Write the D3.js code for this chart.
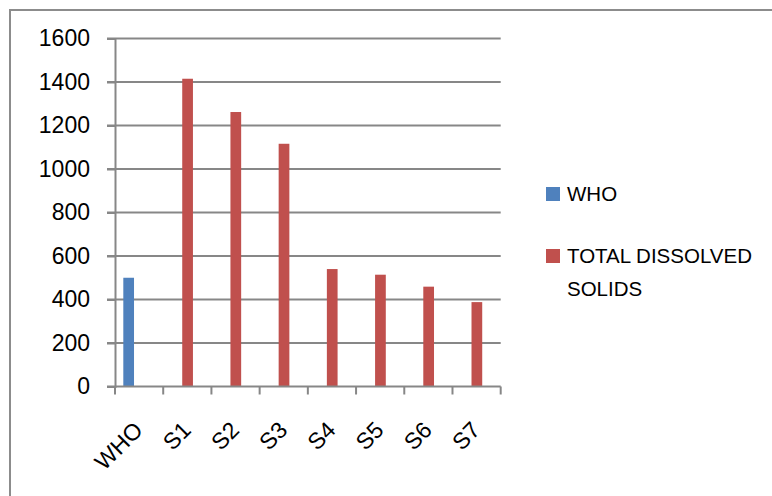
<!DOCTYPE html>
<html>
<head>
<meta charset="utf-8">
<script src="https://cdn.jsdelivr.net/npm/d3@7"></script>
<style>
  body { margin: 0; background: #fff; }
  svg { display: block; font-family: "Liberation Sans", Arial, sans-serif; }
</style>
</head>
<body>
<div id="viz"></div>
<script>
// chart data
const categories = ["WHO", "S1", "S2", "S3", "S4", "S5", "S6", "S7"];
const seriesNames = ["WHO", "TOTAL DISSOLVED SOLIDS"];
const whoValues = [500, null, null, null, null, null, null, null];
const tdsValues = [null, 1415, 1262, 1116, 540, 514, 459, 388];
const yTicks = [0, 200, 400, 600, 800, 1000, 1200, 1400, 1600];
const colors = ["#4f81bd", "#c0504d"];

const width = 772, height = 496;
const plot = {left: 115, right: 500.7, top: 38.5, bottom: 386.5};
const fontFamily = "'Liberation Sans', Arial, sans-serif";

const svg = d3.select("#viz").append("svg")
    .attr("width", width)
    .attr("height", height);

// outer chart border (only top and left are inside the frame)
svg.append("rect")
    .attr("x", 10).attr("y", 10)
    .attr("width", width + 20).attr("height", height + 20)
    .attr("fill", "none")
    .attr("stroke", "#8c8c8c")
    .attr("stroke-width", 2);

const xScale = d3.scaleBand()
    .domain(categories)
    .range([plot.left, plot.right])
    .padding(0);

// series offset inside each category (wide gap, group slightly left of centre)
const xSeries = d3.scaleBand()
    .domain(seriesNames)
    .range([0, xScale.bandwidth()])
    .paddingInner(0)
    .paddingOuter(1.25)
    .align(0.31);

const yScale = d3.scaleLinear()
    .domain([0, 1600])
    .range([plot.bottom, plot.top]);

// gridlines
svg.append("g")
  .selectAll("line")
  .data(yTicks.filter(d => d > 0))
  .join("line")
    .attr("x1", plot.left - 8)
    .attr("x2", plot.right)
    .attr("y1", d => yScale(d))
    .attr("y2", d => yScale(d))
    .attr("stroke", "#878787")
    .attr("stroke-width", 2);

// bars
const rows = categories.map((c, i) => ({cat: c, values: [whoValues[i], tdsValues[i]]}));
svg.append("g")
  .selectAll("g")
  .data(rows)
  .join("g")
    .attr("transform", d => "translate(" + xScale(d.cat) + ",0)")
  .selectAll("rect")
  .data(d => d.values.map((v, j) => ({series: seriesNames[j], value: v, color: colors[j]})).filter(d => d.value != null))
  .join("rect")
    .attr("x", d => xSeries(d.series))
    .attr("width", xSeries.bandwidth())
    .attr("y", d => yScale(d.value))
    .attr("height", d => yScale(0) - yScale(d.value))
    .attr("fill", d => d.color);

// Y axis
const yAxis = d3.axisLeft(yScale)
    .tickValues(yTicks)
    .tickFormat(d3.format("d"))
    .tickSize(8)
    .tickPadding(17);
const yAxisG = svg.append("g")
    .attr("transform", "translate(" + plot.left + ",0)")
    .call(yAxis);
yAxisG.select(".domain").attr("stroke", "#878787").attr("stroke-width", 2);
yAxisG.selectAll(".tick line").attr("stroke", "#878787").attr("stroke-width", 2);
yAxisG.selectAll(".tick text")
    .attr("fill", "#000")
    .style("font-size", "23px")
    .style("font-family", fontFamily);

// X axis: ticks at category boundaries
const boundaries = categories.map(c => xScale(c)).concat([plot.right]);
const xg = svg.append("g");
xg.append("line")
    .attr("x1", plot.left - 8).attr("x2", plot.right)
    .attr("y1", plot.bottom).attr("y2", plot.bottom)
    .attr("stroke", "#878787").attr("stroke-width", 2);
xg.selectAll(".xtick")
  .data(boundaries)
  .join("line")
    .attr("class", "xtick")
    .attr("x1", d => d).attr("x2", d => d)
    .attr("y1", plot.bottom).attr("y2", plot.bottom + 8)
    .attr("stroke", "#878787").attr("stroke-width", 2);
xg.selectAll(".xlabel")
  .data(categories)
  .join("text")
    .attr("class", "xlabel")
    .attr("text-anchor", "end")
    .attr("transform", d => "translate(" + (xScale(d) + xScale.bandwidth() / 2 + 5) + "," + (plot.bottom + 45) + ") rotate(-45)")
    .style("font-size", "23px")
    .text(d => d);

// legend
const legend = svg.append("g").attr("transform", "translate(546,0)");
const legendItems = [
  {name: seriesNames[0], lines: ["WHO"], y: 187},
  {name: seriesNames[1], lines: ["TOTAL DISSOLVED", "SOLIDS"], y: 249}
];
legendItems.forEach((item, i) => {
  legend.append("rect")
      .attr("x", 0).attr("y", item.y)
      .attr("width", 14).attr("height", 14)
      .attr("fill", colors[i]);
  const t = legend.append("text")
      .attr("x", 21)
      .attr("y", item.y + 14)
      .style("font-size", "20.5px");
  item.lines.forEach((l, k) => {
    t.append("tspan").attr("x", 21).attr("dy", k === 0 ? 0 : 33).text(l);
  });
});
</script>
</body>
</html>
